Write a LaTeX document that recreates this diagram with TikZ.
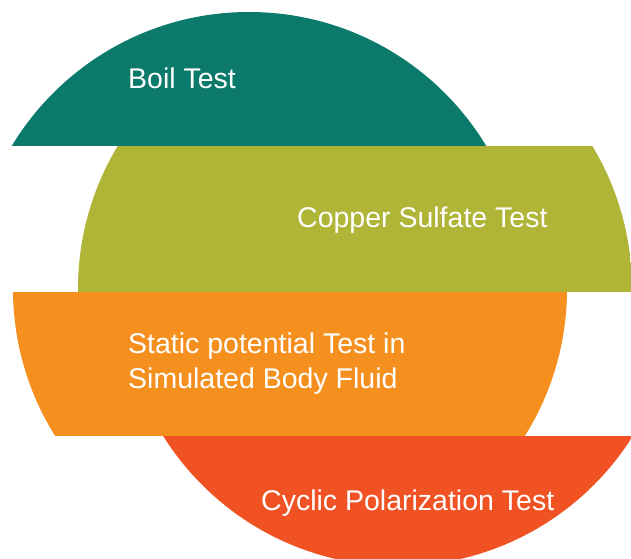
\documentclass[tikz,border=0pt]{standalone}
\usepackage{fontspec}
\setmainfont{Liberation Sans}
\definecolor{cteal}{RGB}{11,122,107}
\definecolor{colive}{RGB}{176,180,55}
\definecolor{corange}{RGB}{245,144,30}
\definecolor{cred}{RGB}{240,82,35}
\tikzset{
  lbl/.style={anchor=base west, text=white, inner sep=0pt, font=\fontsize{28.5}{35}\selectfont, align=left},
}
\newcommand{\band}[4]{% color, cx, y1, y2
  \begin{scope}
    \clip (#2,289) circle (277);
    \fill[#1] (#2-280,#3) rectangle (#2+280,#4);
  \end{scope}}
\begin{document}
\begin{tikzpicture}[x=1pt,y=-1pt]
  \useasboundingbox (0,0) rectangle (631,558);
  \clip (0,0) rectangle (631,558);
  \band{cteal}{249}{0}{146}
  \band{colive}{355}{146}{292}
  \band{corange}{290}{292}{436}
  \band{cred}{398}{436}{570}
  \node[lbl] (boil) at (128,88) {Boil Test};
  \node[lbl] (copper) at (297,227) {Copper Sulfate Test};
  \node[lbl, anchor=north west] (static) at (128,332.5) {Static potential Test in\\Simulated Body Fluid};
  \node[lbl] (cyclic) at (261,510) {Cyclic Polarization Test};
\end{tikzpicture}
\end{document}
